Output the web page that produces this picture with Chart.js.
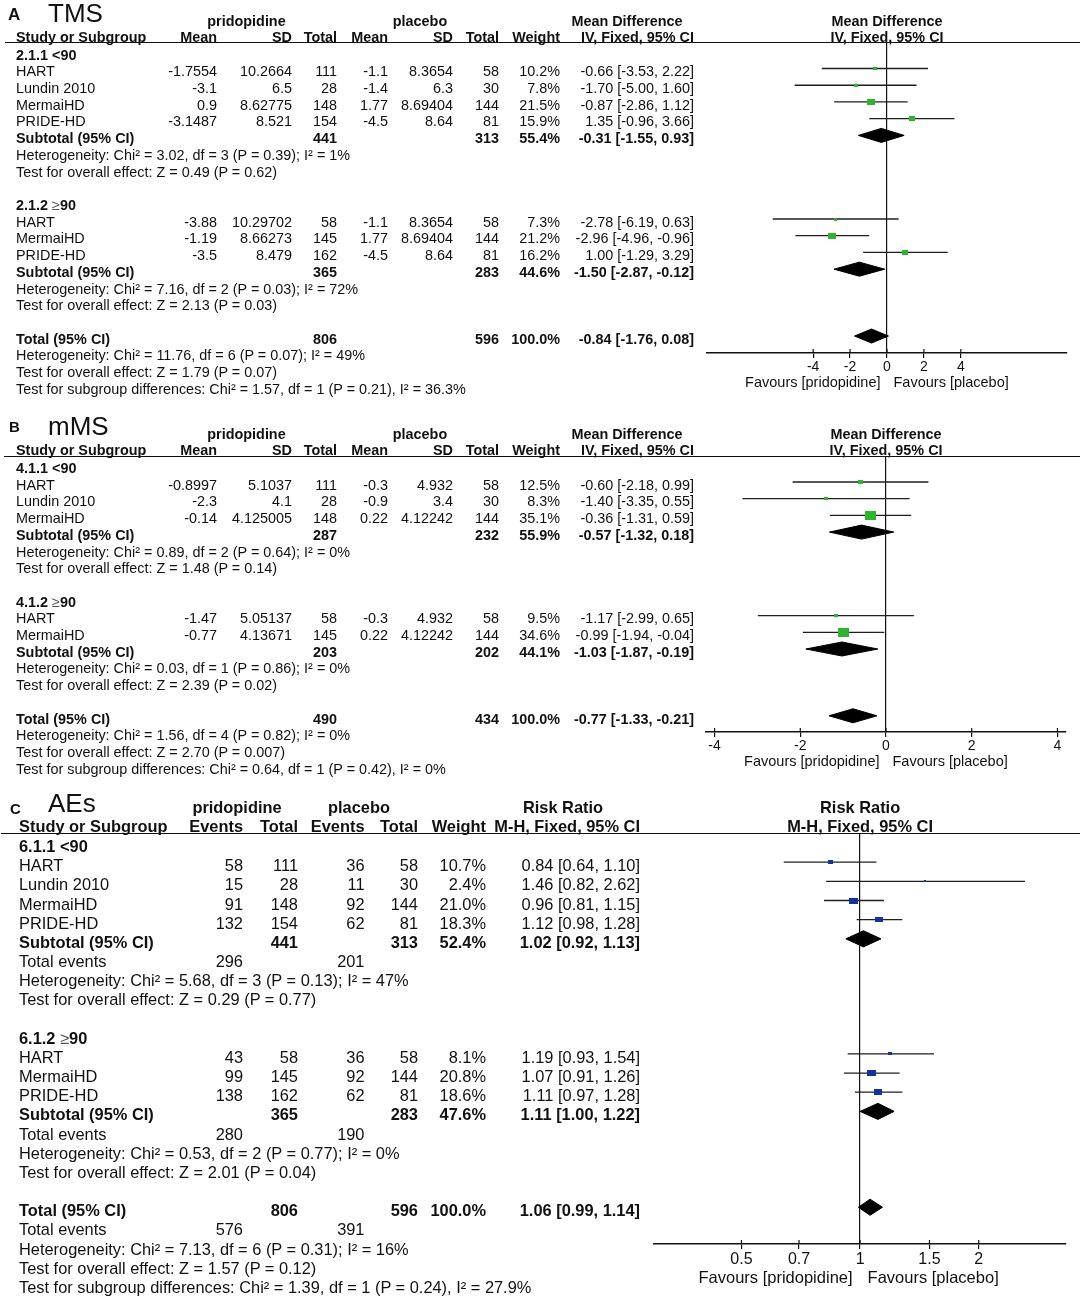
<!DOCTYPE html>
<html>
<head>
<meta charset="utf-8">
<script src="https://cdn.jsdelivr.net/npm/chart.js@4.4.1/dist/chart.umd.min.js"></script>
<style>
  html, body { margin: 0; padding: 0; background: #fff; }
  #page { position: relative; width: 1084px; height: 1296px; overflow: hidden;
          font-family: "Liberation Sans", Arial, sans-serif; color: #111; }
  #page canvas { position: absolute; left: 0; }
  .t { position: absolute; white-space: nowrap; line-height: 1; }
  .t .sym { font-weight: normal; color: #555; }
  .rule { position: absolute; height: 0; border-top: 1px solid #111; }
</style>
</head>
<body>
<div id="page"></div>
<script>
// ---- A: TMS (mean difference) ----
const tmsGroups = ['2.1.1 <90', '2.1.2 ≥90'];
// study, mean, SD, total (pridopidine), mean, SD, total (placebo), weight %, MD, lower, upper
const tmsLt90 = [
    ['HART', '-1.7554', '10.2664', 111, '-1.1', '8.3654', 58, 10.2, -0.66, -3.53, 2.22],
    ['Lundin 2010', '-3.1', '6.5', 28, '-1.4', '6.3', 30, 7.8, -1.70, -5.00, 1.60],
    ['MermaiHD', '0.9', '8.62775', 148, '1.77', '8.69404', 144, 21.5, -0.87, -2.86, 1.12],
    ['PRIDE-HD', '-3.1487', '8.521', 154, '-4.5', '8.64', 81, 15.9, 1.35, -0.96, 3.66]
];
const tmsGe90 = [
    ['HART', '-3.88', '10.29702', 58, '-1.1', '8.3654', 58, 7.3, -2.78, -6.19, 0.63],
    ['MermaiHD', '-1.19', '8.66273', 145, '1.77', '8.69404', 144, 21.2, -2.96, -4.96, -0.96],
    ['PRIDE-HD', '-3.5', '8.479', 162, '-4.5', '8.64', 81, 16.2, 1.00, -1.29, 3.29]
];
// total, total, weight %, MD, lower, upper
const tmsSubtotal = [[441, 313, 55.4, -0.31, -1.55, 0.93], [365, 283, 44.6, -1.50, -2.87, -0.12]];
const tmsTotal = [806, 596, 100.0, -0.84, -1.76, 0.08];
const tmsNotes = [
    'Heterogeneity: Chi² = 3.02, df = 3 (P = 0.39); I² = 1%',
    'Test for overall effect: Z = 0.49 (P = 0.62)',
    'Heterogeneity: Chi² = 7.16, df = 2 (P = 0.03); I² = 72%',
    'Test for overall effect: Z = 2.13 (P = 0.03)',
    'Heterogeneity: Chi² = 11.76, df = 6 (P = 0.07); I² = 49%',
    'Test for overall effect: Z = 1.79 (P = 0.07)',
    'Test for subgroup differences: Chi² = 1.57, df = 1 (P = 0.21), I² = 36.3%'
];

// ---- B: mMS (mean difference) ----
const mmsGroups = ['4.1.1 <90', '4.1.2 ≥90'];
const mmsLt90 = [
    ['HART', '-0.8997', '5.1037', 111, '-0.3', '4.932', 58, 12.5, -0.60, -2.18, 0.99],
    ['Lundin 2010', '-2.3', '4.1', 28, '-0.9', '3.4', 30, 8.3, -1.40, -3.35, 0.55],
    ['MermaiHD', '-0.14', '4.125005', 148, '0.22', '4.12242', 144, 35.1, -0.36, -1.31, 0.59]
];
const mmsGe90 = [
    ['HART', '-1.47', '5.05137', 58, '-0.3', '4.932', 58, 9.5, -1.17, -2.99, 0.65],
    ['MermaiHD', '-0.77', '4.13671', 145, '0.22', '4.12242', 144, 34.6, -0.99, -1.94, -0.04]
];
const mmsSubtotal = [[287, 232, 55.9, -0.57, -1.32, 0.18], [203, 202, 44.1, -1.03, -1.87, -0.19]];
const mmsTotal = [490, 434, 100.0, -0.77, -1.33, -0.21];
const mmsNotes = [
    'Heterogeneity: Chi² = 0.89, df = 2 (P = 0.64); I² = 0%',
    'Test for overall effect: Z = 1.48 (P = 0.14)',
    'Heterogeneity: Chi² = 0.03, df = 1 (P = 0.86); I² = 0%',
    'Test for overall effect: Z = 2.39 (P = 0.02)',
    'Heterogeneity: Chi² = 1.56, df = 4 (P = 0.82); I² = 0%',
    'Test for overall effect: Z = 2.70 (P = 0.007)',
    'Test for subgroup differences: Chi² = 0.64, df = 1 (P = 0.42), I² = 0%'
];

// ---- C: AEs (risk ratio) ----
const aeGroups = ['6.1.1 <90', '6.1.2 ≥90'];
// study, events, total (pridopidine), events, total (placebo), weight %, RR, lower, upper
const aeLt90 = [
    ['HART', 58, 111, 36, 58, 10.7, 0.84, 0.64, 1.10],
    ['Lundin 2010', 15, 28, 11, 30, 2.4, 1.46, 0.82, 2.62],
    ['MermaiHD', 91, 148, 92, 144, 21.0, 0.96, 0.81, 1.15],
    ['PRIDE-HD', 132, 154, 62, 81, 18.3, 1.12, 0.98, 1.28]
];
const aeGe90 = [
    ['HART', 43, 58, 36, 58, 8.1, 1.19, 0.93, 1.54],
    ['MermaiHD', 99, 145, 92, 144, 20.8, 1.07, 0.91, 1.26],
    ['PRIDE-HD', 138, 162, 62, 81, 18.6, 1.11, 0.97, 1.28]
];
const aeSubtotal = [[441, 313, 52.4, 1.02, 0.92, 1.13], [365, 283, 47.6, 1.11, 1.00, 1.22]];
const aeTotal = [806, 596, 100.0, 1.06, 0.99, 1.14];
const aeEvents = [[296, 201], [280, 190], [576, 391]];
const aeNotes = [
    'Heterogeneity: Chi² = 5.68, df = 3 (P = 0.13); I² = 47%',
    'Test for overall effect: Z = 0.29 (P = 0.77)',
    'Heterogeneity: Chi² = 0.53, df = 2 (P = 0.77); I² = 0%',
    'Test for overall effect: Z = 2.01 (P = 0.04)',
    'Heterogeneity: Chi² = 7.13, df = 6 (P = 0.31); I² = 16%',
    'Test for overall effect: Z = 1.57 (P = 0.12)',
    'Test for subgroup differences: Chi² = 1.39, df = 1 (P = 0.24), I² = 27.9%'
];

// axis ticks and labels
const mdTicks = [-4, -2, 0, 2, 4];
const rrTicks = [0.5, 0.7, 1, 1.5, 2];
const favours = ['Favours [pridopidine]', 'Favours [placebo]'];
const mdHeads = {
    top: ['pridopidine', 'placebo', 'Mean Difference'],
    cols: ['Study or Subgroup', 'Mean', 'SD', 'Total', 'Mean', 'SD', 'Total', 'Weight', 'IV, Fixed, 95% CI'],
    plot: ['Mean Difference', 'IV, Fixed, 95% CI']
};
const rrHeads = {
    top: ['pridopidine', 'placebo', 'Risk Ratio'],
    cols: ['Study or Subgroup', 'Events', 'Total', 'Events', 'Total', 'Weight', 'M-H, Fixed, 95% CI'],
    plot: ['Risk Ratio', 'M-H, Fixed, 95% CI']
};

// ---- layout ----
const mdCols = [
    { x: 16, a: 'left' }, { x: 217, a: 'right' }, { x: 292, a: 'right' }, { x: 337, a: 'right' },
    { x: 388, a: 'right' }, { x: 453, a: 'right' }, { x: 499, a: 'right' }
];
const rrCols = [
    { x: 19, a: 'left' }, { x: 243, a: 'right' }, { x: 298, a: 'right' },
    { x: 364.5, a: 'right' }, { x: 418, a: 'right' }
];
const layoutA = {
    top: 0, areaLeft: 707, areaRight: 1067, areaTop: 42, areaBottom: 353, axisH: 30,
    row0: 51.8, pitch: 16.72, textDy: 2.7,
    xType: 'linear', xMin: -9.75, xMax: 9.75, ref: 0, ticks: mdTicks,
    font: 14.4, tickFont: 14, favFont: 14.5, favY: 382, favGap: 6.5,
    boxW: 0.76, boxH: 0.6, boxColor: '#2eb52e',
    cols: mdCols, wCol: { x: 560, a: 'right' }, ciCol: { x: 694, a: 'right' }, nIdx: [3, 6],
    head1X: [246.5, 420, 627], head1Y: 20.5, head2Y: 36.5, ruleX: 5, ruleY: 42,
    letterX: 8, letterY: 13.5, letterSize: 17, titleY: 13
};
const layoutB = Object.assign({}, layoutA, {
    top: 400, areaLeft: 706, areaRight: 1066, areaTop: 456, areaBottom: 732,
    row0: 465.3, pitch: 16.7, xMin: -4.2, xMax: 4.2, favY: 760.5,
    boxW: 0.75, boxH: 0.6,
    head1Y: 434, head2Y: 450, ruleX: 4, ruleY: 456,
    letterX: 9, letterY: 425.5, letterSize: 15, titleY: 426
});
const layoutC = {
    top: 780, areaLeft: 654, areaRight: 1066, areaTop: 833, areaBottom: 1244, axisH: 32,
    row0: 843, pitch: 19.17, textDy: 3,
    xType: 'logarithmic', xMin: 0.3, xMax: 3.33, ref: 1, ticks: rrTicks,
    font: 16.4, tickFont: 16, favFont: 16.5, favY: 1277, favGap: 7.5,
    boxW: 0.9, boxH: 0.62, boxColor: '#13329b',
    cols: rrCols, wCol: { x: 486, a: 'right' }, ciCol: { x: 640, a: 'right' }, nIdx: [2, 4], eIdx: [1, 3],
    head1X: [237, 359, 563], head1Y: 807, head2Y: 826, ruleX: 1, ruleY: 833,
    letterX: 10, letterY: 807.5, letterSize: 15, titleY: 803
};

const panels = [
    {
        letter: 'A', title: 'TMS', layout: layoutA, heads: mdHeads,
        groups: [
            { label: tmsGroups[0], studies: tmsLt90, sub: tmsSubtotal[0], notes: tmsNotes.slice(0, 2) },
            { label: tmsGroups[1], studies: tmsGe90, sub: tmsSubtotal[1], notes: tmsNotes.slice(2, 4) }
        ],
        total: { sum: tmsTotal, notes: tmsNotes.slice(4) }
    },
    {
        letter: 'B', title: 'mMS', layout: layoutB, heads: mdHeads,
        groups: [
            { label: mmsGroups[0], studies: mmsLt90, sub: mmsSubtotal[0], notes: mmsNotes.slice(0, 2) },
            { label: mmsGroups[1], studies: mmsGe90, sub: mmsSubtotal[1], notes: mmsNotes.slice(2, 4) }
        ],
        total: { sum: mmsTotal, notes: mmsNotes.slice(4) }
    },
    {
        letter: 'C', title: 'AEs', layout: layoutC, heads: rrHeads,
        groups: [
            { label: aeGroups[0], studies: aeLt90, sub: aeSubtotal[0], events: aeEvents[0], notes: aeNotes.slice(0, 2) },
            { label: aeGroups[1], studies: aeGe90, sub: aeSubtotal[1], events: aeEvents[1], notes: aeNotes.slice(2, 4) }
        ],
        total: { sum: aeTotal, events: aeEvents[2], notes: aeNotes.slice(4) }
    }
];

Chart.defaults.font.family = '"Liberation Sans", Arial, sans-serif';
Chart.defaults.color = '#111';

const page = document.getElementById('page');

function addText(str, x, y, opts) {
    const el = document.createElement('div');
    el.className = 't';
    // the ≥ sign is drawn thin and grey in the source
    const parts = str.split('≥');
    parts.forEach((part, i) => {
        if (i > 0) {
            const s = document.createElement('span');
            s.className = 'sym';
            s.textContent = '≥';
            el.appendChild(s);
        }
        el.appendChild(document.createTextNode(part));
    });
    el.style.left = x + 'px';
    el.style.top = y + 'px';
    el.style.fontSize = opts.size + 'px';
    if (opts.bold) el.style.fontWeight = 'bold';
    const tx = opts.align === 'right' ? '-100%' : opts.align === 'center' ? '-50%' : '0';
    el.style.transform = `translate(${tx}, -50%)`;
    page.appendChild(el);
}

const pct = (w) => w.toFixed(1) + '%';
const ciText = (r) => `${r.est.toFixed(2)} [${r.lo.toFixed(2)}, ${r.hi.toFixed(2)}]`;

// weight box, slightly wider than tall as in the source
function boxImage(weight, L) {
    const base = Math.pow(weight, 0.75);
    const c = document.createElement('canvas');
    c.width = Math.max(2, Math.round(L.boxW * base));
    c.height = Math.max(2, Math.round(L.boxH * base));
    const g = c.getContext('2d');
    g.fillStyle = L.boxColor;
    g.fillRect(0, 0, c.width, c.height);
    return c;
}

// rows of the table, k = row index on the y scale
function buildRows(p) {
    const rows = [];
    let k = 0;
    const addSum = (label, s, events, notes) => {
        rows.push({ k: k++, kind: 'sum', label, n: [s[0], s[1]], w: s[2], est: s[3], lo: s[4], hi: s[5] });
        if (events) rows.push({ k: k++, kind: 'events', events });
        notes.forEach(t => rows.push({ k: k++, kind: 'note', text: t }));
    };
    p.groups.forEach(g => {
        rows.push({ k: k++, kind: 'group', text: g.label });
        g.studies.forEach(s => {
            const n = s.length;
            rows.push({ k: k++, kind: 'study', cells: s.slice(0, n - 4), w: s[n - 4], est: s[n - 3], lo: s[n - 2], hi: s[n - 1] });
        });
        addSum('Subtotal (95% CI)', g.sub, g.events, g.notes);
        k++; // empty line
    });
    addSum('Total (95% CI)', p.total.sum, p.total.events, p.total.notes);
    return rows;
}

// tick marks that cross the axis line
const crossTicks = {
    id: 'crossTicks',
    afterDraw(chart) {
        const s = chart.scales.x;
        const ctx = chart.ctx;
        ctx.save();
        ctx.strokeStyle = '#111';
        ctx.lineWidth = 1.2;
        s.ticks.forEach(t => {
            const px = s.getPixelForValue(t.value);
            ctx.beginPath();
            ctx.moveTo(px, s.top - 4);
            ctx.lineTo(px, s.top);
            ctx.stroke();
        });
        ctx.restore();
    }
};

function drawPanel(p) {
    const L = p.layout;
    const h = L.areaBottom - L.top + L.axisH;
    const canvas = document.createElement('canvas');
    canvas.width = 1084;
    canvas.height = h;
    canvas.style.top = L.top + 'px';
    page.appendChild(canvas);

    const rows = buildRows(p);
    const studies = rows.filter(r => r.kind === 'study');
    const sums = rows.filter(r => r.kind === 'sum');
    const dh = 0.42; // diamond half height, in rows

    const datasets = [{
        data: studies.map(r => ({ x: r.est, y: r.k })),
        pointStyle: studies.map(r => boxImage(r.w, L)),
        pointRadius: 3,
        borderWidth: 0
    }];
    studies.forEach(r => datasets.push({
        data: [{ x: r.lo, y: r.k }, { x: r.hi, y: r.k }],
        showLine: true, borderColor: '#1f1f1f', borderWidth: 1.3, pointRadius: 0
    }));
    sums.forEach(r => datasets.push({
        data: [
            { x: r.lo, y: r.k }, { x: r.est, y: r.k - dh }, { x: r.hi, y: r.k },
            { x: r.est, y: r.k + dh }, { x: r.lo, y: r.k }
        ],
        showLine: true, fill: 'shape', backgroundColor: '#000', borderColor: '#000',
        borderWidth: 1, pointRadius: 0
    }));

    const chart = new Chart(canvas, {
        type: 'scatter',
        data: { datasets },
        options: {
            responsive: false,
            animation: false,
            events: [],
            layout: { padding: { left: L.areaLeft, right: 1084 - L.areaRight, top: L.areaTop - L.top, bottom: 0 } },
            plugins: { legend: { display: false }, tooltip: { enabled: false } },
            scales: {
                x: {
                    type: L.xType,
                    position: 'bottom',
                    min: L.xMin,
                    max: L.xMax,
                    afterBuildTicks: (s) => { s.ticks = L.ticks.map(v => ({ value: v })); },
                    afterFit: (s) => { s.height = L.axisH; },
                    ticks: { font: { size: L.tickFont }, color: '#111', padding: 1, maxRotation: 0, autoSkip: false, callback: (v) => String(v) },
                    grid: {
                        color: (c) => (c.tick && c.tick.value === L.ref) ? '#111' : 'rgba(0,0,0,0)',
                        lineWidth: 1.2, tickColor: '#111', tickLength: 5
                    },
                    border: { display: true, color: '#111', width: 1.5 }
                },
                y: {
                    type: 'linear',
                    display: false,
                    reverse: true,
                    min: (L.areaTop - L.row0) / L.pitch,
                    max: (L.areaBottom - L.row0) / L.pitch
                }
            }
        },
        plugins: [crossTicks]
    });

    const ys = chart.scales.y;
    const refX = chart.scales.x.getPixelForValue(L.ref);
    const put = (str, col, y, bold) => addText(String(str), col.x, y, { size: L.font, bold, align: col.a });

    // titles and header
    addText(p.letter, L.letterX, L.letterY, { size: L.letterSize, bold: true });
    addText(p.title, 48, L.titleY, { size: 26 });
    p.heads.top.forEach((t, i) => addText(t, L.head1X[i], L.head1Y, { size: L.font, bold: true, align: 'center' }));
    const headCols = [...L.cols, L.wCol, L.ciCol];
    p.heads.cols.forEach((t, i) => addText(t, headCols[i].x, L.head2Y, { size: L.font, bold: true, align: headCols[i].a }));
    addText(p.heads.plot[0], refX, L.head1Y, { size: L.font, bold: true, align: 'center' });
    addText(p.heads.plot[1], refX, L.head2Y, { size: L.font, bold: true, align: 'center' });
    const rule = document.createElement('div');
    rule.className = 'rule';
    rule.style.left = L.ruleX + 'px';
    rule.style.width = (1080 - L.ruleX) + 'px';
    rule.style.top = L.ruleY + 'px';
    page.appendChild(rule);

    // table rows
    rows.forEach(r => {
        const y = L.top + ys.getPixelForValue(r.k) + L.textDy;
        if (r.kind === 'group') put(r.text, L.cols[0], y, true);
        else if (r.kind === 'note') put(r.text, L.cols[0], y, false);
        else if (r.kind === 'study') {
            r.cells.forEach((v, i) => put(v, L.cols[i], y, false));
            put(pct(r.w), L.wCol, y, false);
            put(ciText(r), L.ciCol, y, false);
        } else if (r.kind === 'sum') {
            put(r.label, L.cols[0], y, true);
            put(r.n[0], L.cols[L.nIdx[0]], y, true);
            put(r.n[1], L.cols[L.nIdx[1]], y, true);
            put(pct(r.w), L.wCol, y, true);
            put(ciText(r), L.ciCol, y, true);
        } else if (r.kind === 'events') {
            put('Total events', L.cols[0], y, false);
            put(r.events[0], L.cols[L.eIdx[0]], y, false);
            put(r.events[1], L.cols[L.eIdx[1]], y, false);
        }
    });

    // favours labels either side of the line of no effect
    addText(favours[0], refX - L.favGap, L.favY, { size: L.favFont, align: 'right' });
    addText(favours[1], refX + L.favGap, L.favY, { size: L.favFont, align: 'left' });
}

panels.forEach(drawPanel);
</script>
</body>
</html>
